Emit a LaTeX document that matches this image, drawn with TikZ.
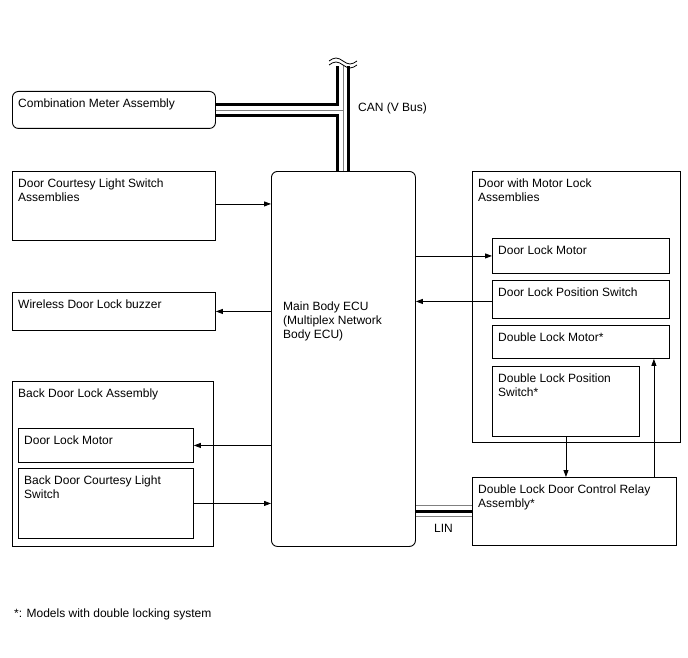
\documentclass[tikz,border=0pt]{standalone}
\usepackage{fontspec}
\setmainfont{Liberation Sans}
\usetikzlibrary{arrows.meta, positioning, calc}

\begin{document}
\begin{tikzpicture}[x=1pt, y=-1pt,
  box/.style={draw, line width=0.9pt, anchor=north west, inner sep=0pt},
  rbox/.style={box, rounded corners=6pt},
  txt/.style={anchor=north west, inner sep=0pt, align=left, font=\fontsize{12}{14}\selectfont},
  arr/.style={-{Triangle[length=7pt, width=5pt]}, line width=0.8pt}
]
\useasboundingbox (0,0) rectangle (688,658);

% left column
\node[rbox, minimum width=203pt, minimum height=37pt] (cma) at (12,91) {};
\node[txt] (cmaT) at ([shift={(6,8)}]cma.north west) {Combination Meter Assembly};

\node[box, minimum width=203pt, minimum height=69pt] (dcl) at (12,171) {};
\node[txt] (dclT) at ([shift={(6,8)}]dcl.north west) {Door Courtesy Light Switch\\Assemblies};

\node[box, minimum width=203pt, minimum height=38pt] (buzzer) at (12,292) {};
\node[txt] (buzzerT) at ([shift={(6,8)}]buzzer.north west) {Wireless Door Lock buzzer};

\node[box, minimum width=201pt, minimum height=165pt] (bdla) at (12,381) {};
\node[txt] (bdlaT) at ([shift={(6,8)}]bdla.north west) {Back Door Lock Assembly};
\node[box, minimum width=175pt, minimum height=34pt] (bdlm) at (18,428) {};
\node[txt] (bdlmT) at ([shift={(6,8)}]bdlm.north west) {Door Lock Motor};
\node[box, minimum width=175pt, minimum height=70pt] (bdcs) at (18,468) {};
\node[txt] (bdcsT) at ([shift={(6,8)}]bdcs.north west) {Back Door Courtesy Light\\Switch};

% main ECU
\node[rbox, minimum width=144pt, minimum height=375pt] (ecu) at (271,171) {};
\node[txt] (ecuT) at ([shift={(12,131)}]ecu.north west) {Main Body ECU\\(Multiplex Network\\Body ECU)};

% right column
\node[box, minimum width=208pt, minimum height=271pt] (dml) at (472,171) {};
\node[txt] (dmlT) at ([shift={(6,8)}]dml.north west) {Door with Motor Lock\\Assemblies};
\node[box, minimum width=177pt, minimum height=35pt] (dlm) at (492,238) {};
\node[txt] (dlmT) at ([shift={(6,8)}]dlm.north west) {Door Lock Motor};
\node[box, minimum width=177pt, minimum height=38pt] (dlps) at (492,280) {};
\node[txt] (dlpsT) at ([shift={(6,8)}]dlps.north west) {Door Lock Position Switch};
\node[box, minimum width=177pt, minimum height=33pt] (dblm) at (492,325) {};
\node[txt] (dblmT) at ([shift={(6,8)}]dblm.north west) {Double Lock Motor*};
\node[box, minimum width=147pt, minimum height=70pt] (dblps) at (492,366) {};
\node[txt] (dblpsT) at ([shift={(6,8)}]dblps.north west) {Double Lock Position\\Switch*};

\node[box, minimum width=204pt, minimum height=68pt] (relay) at (472,477) {};
\node[txt] (relayT) at ([shift={(6,8)}]relay.north west) {Double Lock Door Control Relay\\Assembly*};

% CAN bus
\coordinate (canTop) at (343,66);
\foreach \w/\c in {14/black, 8/white, 0.7/gray}
  \draw[line width=\w pt, \c] (cma.east) -- (cma.east -| canTop)
    (canTop) -- (canTop |- ecu.north);
\draw[line width=0.8pt] (329,61) sin (336,58) cos (343,61) sin (350,64) cos (357,61);
\draw[line width=0.8pt] (329,65) sin (336,62) cos (343,65) sin (350,68) cos (357,65);
\node[txt, anchor=west] (canT) at (358,108) {CAN (V Bus)};

% LIN bus
\foreach \w/\c in {12/gray, 10/white, 3.5/black}
  \draw[line width=\w pt, \c] (relay.west) -- (relay.west -| ecu.east);
\node[txt, anchor=west] (linT) at (434,528) {LIN};

% signals
\draw[arr] ([yshift=2]dcl.east) -- ([yshift=2]dcl.east -| ecu.west);
\draw[arr] (buzzer.east -| ecu.west) -- (buzzer.east);
\draw[arr] (bdlm.east -| ecu.west) -- (bdlm.east);
\draw[arr] (bdcs.east) -- (bdcs.east -| ecu.west);
\draw[arr] (dlm.west -| ecu.east) -- (dlm.west);
\draw[arr] ([yshift=-2]dlps.west) -- ([yshift=-2]dlps.west -| ecu.east);
\draw[arr] (dblps.south) -- (dblps.south |- relay.north);
\draw[arr] ([xshift=-16]dblm.south east |- relay.north) -- ([xshift=-16]dblm.south east);

% footnote
\node[txt, anchor=west] (note) at (14,614) {*: Models with double locking system};
\end{tikzpicture}
\end{document}
